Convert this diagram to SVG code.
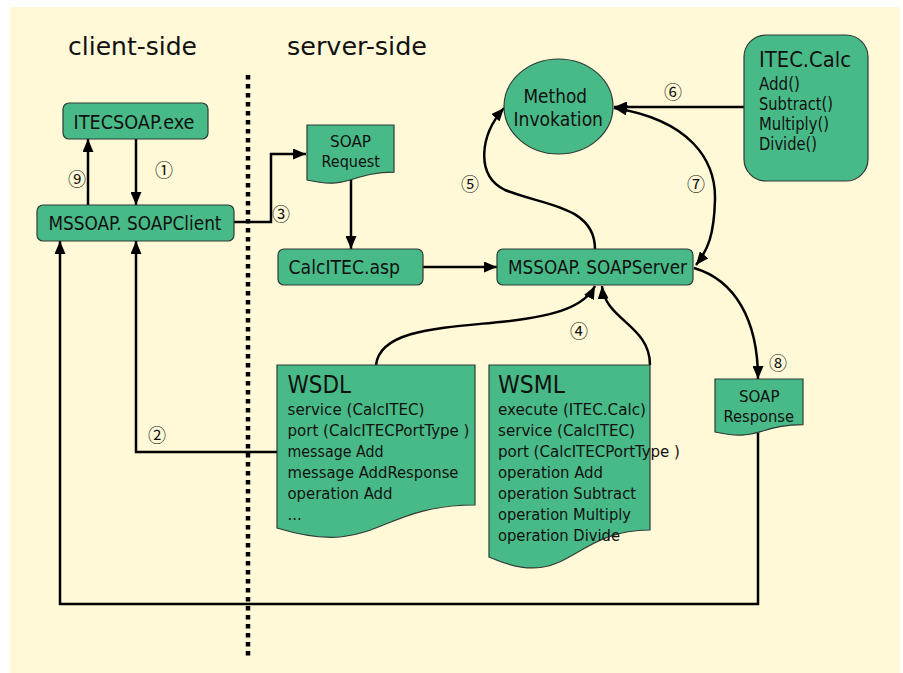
<svg xmlns="http://www.w3.org/2000/svg" width="903" height="673" viewBox="0 0 903 673">
  <style>
    .node { fill: #48BA88; stroke: #2f3b35; stroke-width: 1.2; }
    .t { font-family: "DejaVu Sans Condensed", "DejaVu Sans", sans-serif; font-stretch: condensed; fill: #111; }
    .lbl { font-family: "Noto Sans CJK JP", "DejaVu Sans", sans-serif; fill: #111; font-size: 18px; text-anchor: middle; }
    .c { fill: none; stroke: #000; stroke-width: 2.5; }
  </style>
  <defs>
    <marker id="ah" viewBox="0 0 13 11" refX="13" refY="5.5" markerWidth="13" markerHeight="11" markerUnits="userSpaceOnUse" orient="auto-start-reverse">
      <path d="M0,0 L13,5.5 L0,11 z" fill="#000"/>
    </marker>
  </defs>

  <!-- page background -->
  <rect x="0" y="0" width="903" height="673" fill="#ffffff"/>
  <rect x="10" y="7" width="890" height="666" fill="#FFF9D7"/>

  <!-- headings and divider -->
  <text class="t" x="68" y="55" font-size="25" textLength="129" lengthAdjust="spacingAndGlyphs">client-side</text>
  <text class="t" x="287" y="55" font-size="25" textLength="140" lengthAdjust="spacingAndGlyphs">server-side</text>
  <line x1="248" y1="75" x2="248" y2="657" stroke="#000" stroke-width="4.5" stroke-dasharray="4.5 4.5"/>

  <!-- connectors -->
  <g id="connectors">
    <path class="c" d="M136,139 V205" stroke-width="2" marker-end="url(#ah)"/>
    <path class="c" d="M88,205 V139" stroke-width="3" marker-end="url(#ah)"/>
    <path class="c" d="M234,222 H271 V154 H306" marker-end="url(#ah)"/>
    <path class="c" d="M351,178 V249" marker-end="url(#ah)"/>
    <path class="c" d="M423,267 H497" marker-end="url(#ah)"/>
    <path class="c" d="M744,107 H614" marker-end="url(#ah)"/>
    <path class="c" d="M595,249 C595,205 540,205 505,190 C475,175 480,135 504,108" marker-end="url(#ah)"/>
    <path class="c" d="M614,108 C690,120 716,160 715,200 C714,235 708,250 696,265" marker-start="url(#ah)" marker-end="url(#ah)"/>
    <path class="c" d="M694,268 C735,280 758,320 758,379" marker-end="url(#ah)"/>
    <path class="c" d="M376,365 C380,330 440,328 500,322 C560,316 585,305 595,286" marker-end="url(#ah)"/>
    <path class="c" d="M650,365 C650,325 605,320 602,286" marker-end="url(#ah)"/>
    <path class="c" d="M278,452 H136 V241" marker-end="url(#ah)"/>
    <path class="c" d="M758,425 V604 H60 V241" marker-end="url(#ah)"/>
  </g>

  <!-- step labels -->
  <g id="step-labels">
    <text class="lbl" x="164" y="177">①</text>
    <text class="lbl" x="157" y="442">②</text>
    <text class="lbl" x="281" y="221">③</text>
    <text class="lbl" x="579" y="338">④</text>
    <text class="lbl" x="470" y="191">⑤</text>
    <text class="lbl" x="673" y="99">⑥</text>
    <text class="lbl" x="696" y="191">⑦</text>
    <text class="lbl" x="778" y="370">⑧</text>
    <text class="lbl" x="77" y="186">⑨</text>
  </g>

  <!-- client nodes -->
  <g id="itecsoap-exe">
    <rect class="node" x="63" y="103" width="145" height="36" rx="6"/>
    <text class="t" x="73.5" y="129" font-size="19.5" textLength="121" lengthAdjust="spacingAndGlyphs">ITECSOAP.exe</text>
  </g>
  <g id="soap-client">
    <rect class="node" x="37" y="205" width="197" height="36" rx="6"/>
    <text class="t" x="48.5" y="230" font-size="19.5" textLength="173" lengthAdjust="spacingAndGlyphs">MSSOAP. SOAPClient</text>
  </g>

  <!-- server nodes -->
  <g id="soap-request">
    <path class="node" d="M307,125 H394 V172.2 C350.5,172.2 350.5,190.2 307,180 Z"/>
    <text class="t" x="330" y="147" font-size="16.5" textLength="41" lengthAdjust="spacingAndGlyphs">SOAP</text>
    <text class="t" x="321.5" y="167" font-size="16.5" textLength="58.5" lengthAdjust="spacingAndGlyphs">Request</text>
  </g>
  <g id="calcitec-asp">
    <rect class="node" x="278" y="249" width="145" height="36" rx="6"/>
    <text class="t" x="288.5" y="274" font-size="19.5" textLength="111.5" lengthAdjust="spacingAndGlyphs">CalcITEC.asp</text>
  </g>
  <g id="soap-server">
    <rect class="node" x="497" y="249" width="196" height="36" rx="6"/>
    <text class="t" x="508" y="274" font-size="19.5" textLength="179" lengthAdjust="spacingAndGlyphs">MSSOAP. SOAPServer</text>
  </g>
  <g id="method-invokation">
    <ellipse class="node" cx="558.5" cy="106.5" rx="54.5" ry="47.5"/>
    <text class="t" x="523.5" y="103" font-size="19.5" textLength="63.5" lengthAdjust="spacingAndGlyphs">Method</text>
    <text class="t" x="513.5" y="125.5" font-size="19.5" textLength="89.5" lengthAdjust="spacingAndGlyphs">Invokation</text>
  </g>
  <g id="itec-calc">
    <rect class="node" x="744" y="35" width="124" height="146" rx="22"/>
    <text class="t" x="759" y="66.5" font-size="21" textLength="92" lengthAdjust="spacingAndGlyphs">ITEC.Calc</text>
    <text class="t" x="759" y="90" font-size="17" textLength="41" lengthAdjust="spacingAndGlyphs">Add()</text>
    <text class="t" x="759" y="110" font-size="17" textLength="74" lengthAdjust="spacingAndGlyphs">Subtract()</text>
    <text class="t" x="759" y="130" font-size="17" textLength="70" lengthAdjust="spacingAndGlyphs">Multiply()</text>
    <text class="t" x="759" y="149.5" font-size="17" textLength="58" lengthAdjust="spacingAndGlyphs">Divide()</text>
  </g>
  <g id="wsdl">
    <path class="node" d="M277,365 H475 V505 C376,505 376,558.4 277,528 Z"/>
    <text class="t" x="287.5" y="393" font-size="25" textLength="63.5" lengthAdjust="spacingAndGlyphs">WSDL</text>
    <text class="t" x="287.5" y="415" font-size="16.5" textLength="137" lengthAdjust="spacingAndGlyphs">service (CalcITEC)</text>
    <text class="t" x="287.5" y="436" font-size="16.5" textLength="182" lengthAdjust="spacingAndGlyphs">port (CalcITECPortType )</text>
    <text class="t" x="287.5" y="457" font-size="16.5" textLength="96" lengthAdjust="spacingAndGlyphs">message Add</text>
    <text class="t" x="287.5" y="478" font-size="16.5" textLength="171" lengthAdjust="spacingAndGlyphs">message AddResponse</text>
    <text class="t" x="287.5" y="499" font-size="16.5" textLength="105" lengthAdjust="spacingAndGlyphs">operation Add</text>
    <text class="t" x="287.5" y="520" font-size="16.5">...</text>
  </g>
  <g id="wsml">
    <path class="node" d="M489,365 H650 V530 C569.5,530 569.5,592.7 489,557 Z"/>
    <text class="t" x="498" y="393" font-size="25" textLength="67" lengthAdjust="spacingAndGlyphs">WSML</text>
    <text class="t" x="498" y="415" font-size="16.5" textLength="148" lengthAdjust="spacingAndGlyphs">execute (ITEC.Calc)</text>
    <text class="t" x="498" y="436" font-size="16.5" textLength="137" lengthAdjust="spacingAndGlyphs">service (CalcITEC)</text>
    <text class="t" x="498" y="457" font-size="16.5" textLength="182" lengthAdjust="spacingAndGlyphs">port (CalcITECPortType )</text>
    <text class="t" x="498" y="478" font-size="16.5" textLength="105" lengthAdjust="spacingAndGlyphs">operation Add</text>
    <text class="t" x="498" y="499" font-size="16.5" textLength="138" lengthAdjust="spacingAndGlyphs">operation Subtract</text>
    <text class="t" x="498" y="520" font-size="16.5" textLength="133" lengthAdjust="spacingAndGlyphs">operation Multiply</text>
    <text class="t" x="498" y="541" font-size="16.5" textLength="122" lengthAdjust="spacingAndGlyphs">operation Divide</text>
  </g>
  <g id="soap-response">
    <path class="node" d="M715,379 H803 V424.7 C759,424.7 759,442 715,432 Z"/>
    <text class="t" x="739" y="402" font-size="16.5" textLength="40.5" lengthAdjust="spacingAndGlyphs">SOAP</text>
    <text class="t" x="723.5" y="422" font-size="16.5" textLength="70.5" lengthAdjust="spacingAndGlyphs">Response</text>
  </g>
</svg>
